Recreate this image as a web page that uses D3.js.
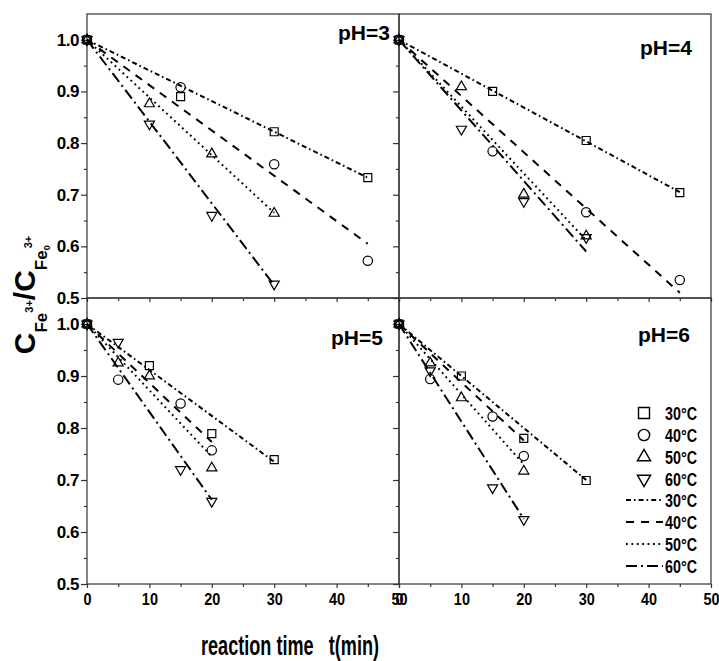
<!DOCTYPE html>
<html>
<head>
<meta charset="utf-8">
<script src="https://cdn.jsdelivr.net/npm/d3@7"></script>
<style>
  body { margin: 0; background: #fff; }
  svg text { font-family: "Liberation Sans", Arial, sans-serif; font-weight: bold; fill: #000; }
</style>
</head>
<body>
<svg id="chart" width="719" height="661"></svg>
<script>
// ---------------- data ----------------
const temps = ["30°C", "40°C", "50°C", "60°C"];
const panelLabels = ["pH=3", "pH=4", "pH=5", "pH=6"];
const xTicks = [0, 10, 20, 30, 40, 50];
const yTicks = [0.5, 0.6, 0.7, 0.8, 0.9, 1.0];

// measured points [t (min), C/C0]
const pH3_30 = [[0, 1.0], [15, 0.890], [30, 0.822], [45, 0.733]];
const pH3_40 = [[0, 1.0], [15, 0.908], [30, 0.759], [45, 0.572]];
const pH3_50 = [[0, 1.0], [10, 0.876], [20, 0.779], [30, 0.664]];
const pH3_60 = [[0, 1.0], [10, 0.837], [20, 0.660], [30, 0.527]];

const pH4_30 = [[0, 1.0], [15, 0.900], [30, 0.805], [45, 0.704]];
const pH4_40 = [[0, 1.0], [15, 0.784], [30, 0.666], [45, 0.535]];
const pH4_50 = [[0, 1.0], [10, 0.909], [20, 0.701], [30, 0.620]];
const pH4_60 = [[0, 1.0], [10, 0.827], [20, 0.687], [30, 0.617]];

const pH5_30 = [[0, 1.0], [10, 0.920], [20, 0.789], [30, 0.739]];
const pH5_40 = [[0, 1.0], [5, 0.893], [15, 0.847], [20, 0.757]];
const pH5_50 = [[0, 1.0], [5, 0.925], [10, 0.900], [20, 0.723]];
const pH5_60 = [[0, 1.0], [5, 0.965], [15, 0.720], [20, 0.659]];

const pH6_30 = [[0, 1.0], [10, 0.900], [20, 0.780], [30, 0.699]];
const pH6_40 = [[0, 1.0], [5, 0.894], [15, 0.822], [20, 0.746]];
const pH6_50 = [[0, 1.0], [5, 0.925], [10, 0.858], [20, 0.717]];
const pH6_60 = [[0, 1.0], [5, 0.910], [15, 0.685], [20, 0.624]];

// fitted lines [start, end] per temperature
const fit_pH3 = [[[0, 1], [45, 0.733]], [[0, 1], [45, 0.605]], [[0, 1], [30, 0.665]], [[0, 1], [30, 0.525]]];
const fit_pH4 = [[[0, 1], [45, 0.705]], [[0, 1], [45, 0.510]], [[0, 1], [30, 0.612]], [[0, 1], [30, 0.590]]];
const fit_pH5 = [[[0, 1], [30, 0.735]], [[0, 1], [20, 0.773]], [[0, 1], [20, 0.745]], [[0, 1], [20, 0.662]]];
const fit_pH6 = [[[0, 1], [30, 0.700]], [[0, 1], [20, 0.776]], [[0, 1], [20, 0.730]], [[0, 1], [20, 0.625]]];

const pointsByPanel = [
  [pH3_30, pH3_40, pH3_50, pH3_60],
  [pH4_30, pH4_40, pH4_50, pH4_60],
  [pH5_30, pH5_40, pH5_50, pH5_60],
  [pH6_30, pH6_40, pH6_50, pH6_60]
];
const fitsByPanel = [fit_pH3, fit_pH4, fit_pH5, fit_pH6];

// ---------------- styles ----------------
const dashes = ["5,3,1.6,3", "8,7", "1.8,3.6", "11,4,2,4"];
const symbolTypes = [d3.symbolSquare, d3.symbolCircle, d3.symbolTriangle, d3.symbolTriangle];
const symbolRot = [0, 0, 0, 180];
const symbolSize = [64, 68, 44, 44];
const legendSize = [121, 100, 75, 75];

const svg = d3.select("#chart");

const colX = [[87, 399], [399, 711]];
const rowY = [[298, 14], [584, 298]];
const layout = [
  {c: 0, r: 0}, {c: 1, r: 0}, {c: 0, r: 1}, {c: 1, r: 1}
];
const labelPos = [
  {x: 390, y: 40}, {x: 692, y: 55}, {x: 383, y: 345}, {x: 690, y: 342}
];

const axisColor = "#333";

layout.forEach((L, i) => {
  const x = d3.scaleLinear().domain([0, 50]).range(colX[L.c]);
  const y = d3.scaleLinear().domain([0.5, 1.05]).range(rowY[L.r]);
  const g = svg.append("g");

  // frame
  g.append("rect")
    .attr("x", x.range()[0]).attr("y", y.range()[1])
    .attr("width", x.range()[1] - x.range()[0])
    .attr("height", y.range()[0] - y.range()[1])
    .attr("fill", "none").attr("stroke", axisColor).attr("stroke-width", 1.2);

  // left axis major
  const yMaj = g.append("g").attr("transform", `translate(${x.range()[0]},0)`)
    .call(d3.axisLeft(y).tickValues(yTicks).tickSize(6).tickPadding(2)
      .tickFormat(L.c === 0 ? d3.format(".1f") : () => ""));
  // left axis minor
  g.append("g").attr("transform", `translate(${x.range()[0]},0)`)
    .call(d3.axisLeft(y).tickValues([0.55, 0.65, 0.75, 0.85, 0.95]).tickSize(3).tickFormat(() => ""));
  // bottom axis major
  const xMaj = g.append("g").attr("transform", `translate(0,${y.range()[0]})`)
    .call(d3.axisBottom(x).tickValues(xTicks).tickSize(4).tickPadding(5)
      .tickFormat(L.r === 1 ? d3.format("d") : () => ""));
  g.append("g").attr("transform", `translate(0,${y.range()[0]})`)
    .call(d3.axisBottom(x).tickValues([5, 15, 25, 35, 45]).tickSize(3).tickFormat(() => ""));

  g.selectAll(".domain").remove();
  g.selectAll(".tick line").attr("stroke", axisColor).attr("stroke-width", 1.2);
  yMaj.selectAll("text").attr("font-size", 17).attr("font-family", "Liberation Sans, Arial, sans-serif")
    .attr("font-weight", "bold").attr("letter-spacing", -0.5);
  xMaj.selectAll("text").attr("font-size", 17).attr("font-family", "Liberation Sans, Arial, sans-serif")
    .attr("font-weight", "bold").attr("transform", "scale(0.85,1)");

  // fit lines
  const line = d3.line().x(d => x(d[0])).y(d => y(d[1]));
  fitsByPanel[i].forEach((f, k) => {
    g.append("path").attr("d", line(f))
      .attr("fill", "none").attr("stroke", "#000").attr("stroke-width", 2)
      .attr("stroke-dasharray", dashes[k]);
  });

  // markers
  pointsByPanel[i].forEach((pts, k) => {
    g.selectAll(null).data(pts).enter().append("path")
      .attr("d", d3.symbol().type(symbolTypes[k]).size(symbolSize[k]))
      .attr("transform", d => `translate(${x(d[0])},${y(d[1])}) rotate(${symbolRot[k]})`)
      .attr("fill", "none").attr("stroke", "#000").attr("stroke-width", 1.2);
  });

  // panel label
  g.append("text").attr("x", labelPos[i].x).attr("y", labelPos[i].y)
    .attr("text-anchor", "end").attr("font-size", 20)
    .attr("textLength", 52).attr("lengthAdjust", "spacingAndGlyphs")
    .text(panelLabels[i]);

  // legend in last panel
  if (i === 3) {
    const lg = g.append("g");
    const symX = 644, txtX = 665, y0 = 413, dy = 22;
    temps.forEach((t, k) => {
      const yy = y0 + k * dy;
      lg.append("path").attr("d", d3.symbol().type(symbolTypes[k]).size(legendSize[k]))
        .attr("transform", `translate(${symX},${yy}) rotate(${symbolRot[k]})`)
        .attr("fill", "none").attr("stroke", "#000").attr("stroke-width", 1.4);
      lg.append("text").attr("x", txtX).attr("y", yy + 6.5).attr("font-size", 18)
        .attr("textLength", 32).attr("lengthAdjust", "spacingAndGlyphs").text(t);
    });
    temps.forEach((t, k) => {
      const yy = y0 + (k + 4) * dy - 1;
      lg.append("line").attr("x1", 626).attr("x2", 663).attr("y1", yy).attr("y2", yy)
        .attr("stroke", "#000").attr("stroke-width", 2).attr("stroke-dasharray", dashes[k]);
      lg.append("text").attr("x", txtX).attr("y", yy + 6.5).attr("font-size", 18)
        .attr("textLength", 32).attr("lengthAdjust", "spacingAndGlyphs").text(t);
    });
  }
});

// x-axis title
svg.append("text").attr("x", 290).attr("y", 655).attr("text-anchor", "middle")
  .attr("font-size", 27).attr("textLength", 178).attr("lengthAdjust", "spacingAndGlyphs")
  .text("reaction time\u00a0\u00a0\u00a0t(min)");

// y-axis title
const yt = svg.append("text").attr("transform", "translate(35,295) rotate(-90)")
  .attr("text-anchor", "middle");
yt.append("tspan").attr("font-size", 30).text("C");
yt.append("tspan").attr("font-size", 17).attr("dy", 12).text("Fe");
yt.append("tspan").attr("font-size", 11).attr("dy", -14).text("3+");
yt.append("tspan").attr("font-size", 30).attr("dy", 2).text("/C");
yt.append("tspan").attr("font-size", 17).attr("dy", 12).text("Fe");
yt.append("tspan").attr("font-size", 9).attr("dy", 3).text("0");
yt.append("tspan").attr("font-size", 11).attr("dx", -3).attr("dy", -18).text("3+");
</script>
</body>
</html>
